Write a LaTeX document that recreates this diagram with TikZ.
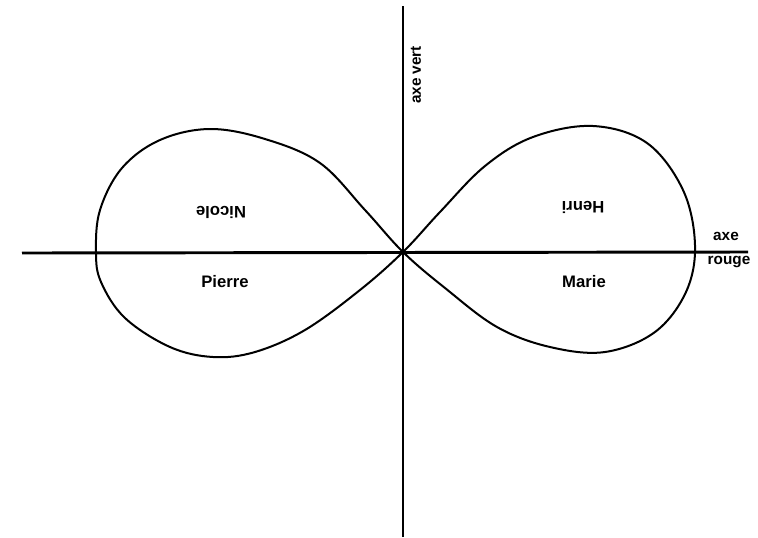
\documentclass[tikz,border=0pt]{standalone}
\usepackage{fontspec}
\setmainfont{Liberation Sans}
\usetikzlibrary{positioning}

\begin{document}
\begin{tikzpicture}[
	x=0.75pt, y=-0.75pt,
	axis/.style={draw=black, line width=2.2pt},
	lobe/.style={draw=black, line width=1.5pt, line join=round},
	person/.style={font=\bfseries\fontsize{12.5}{14}\selectfont, inner sep=0pt},
	axislabel/.style={font=\bfseries\fontsize{11.5}{13}\selectfont, inner sep=0pt}
]
\useasboundingbox (0,0) rectangle (758,537);

\coordinate (O) at (403,252);
\coordinate (vtop) at (403,6);
\coordinate (vbot) at (403,537);
\coordinate (hleft) at (22,253);
\coordinate (hright) at (748,252);

\draw[axis] (vbot) -- (vtop);
\draw[axis] (hleft) -- (hright);

% figure-eight curve
\draw[lobe] plot[smooth cycle, tension=0.6] coordinates {
	(O) (440,212) (485,166) (533,137) (593,126) (647,143) (683,190) (695,245)
	(686,292) (655,332) (605,352) (550,347) (497,327) (445,288)
	(O) (365,210) (320,163) (265,139) (210,129) (160,140) (122,168) (100,210)
	(96,252) (101,282) (125,318) (170,347) (213,357) (255,352) (305,330) (360,290)
};

\node[axislabel, rotate=90] (vert) at (416,75) {axe vert};
\node[axislabel] (axe) at (726,236) {axe};
\node[axislabel] (rouge) at (729,262) {rouge};

\node[person, rotate=180] (nicole) at (221,212) {Nicole};
\node[person, rotate=180] (henri) at (583,207) {Henri};
\node[person] (pierre) at (225,282) {Pierre};
\node[person] (marie) at (584,282) {Marie};
\end{tikzpicture}
\end{document}
